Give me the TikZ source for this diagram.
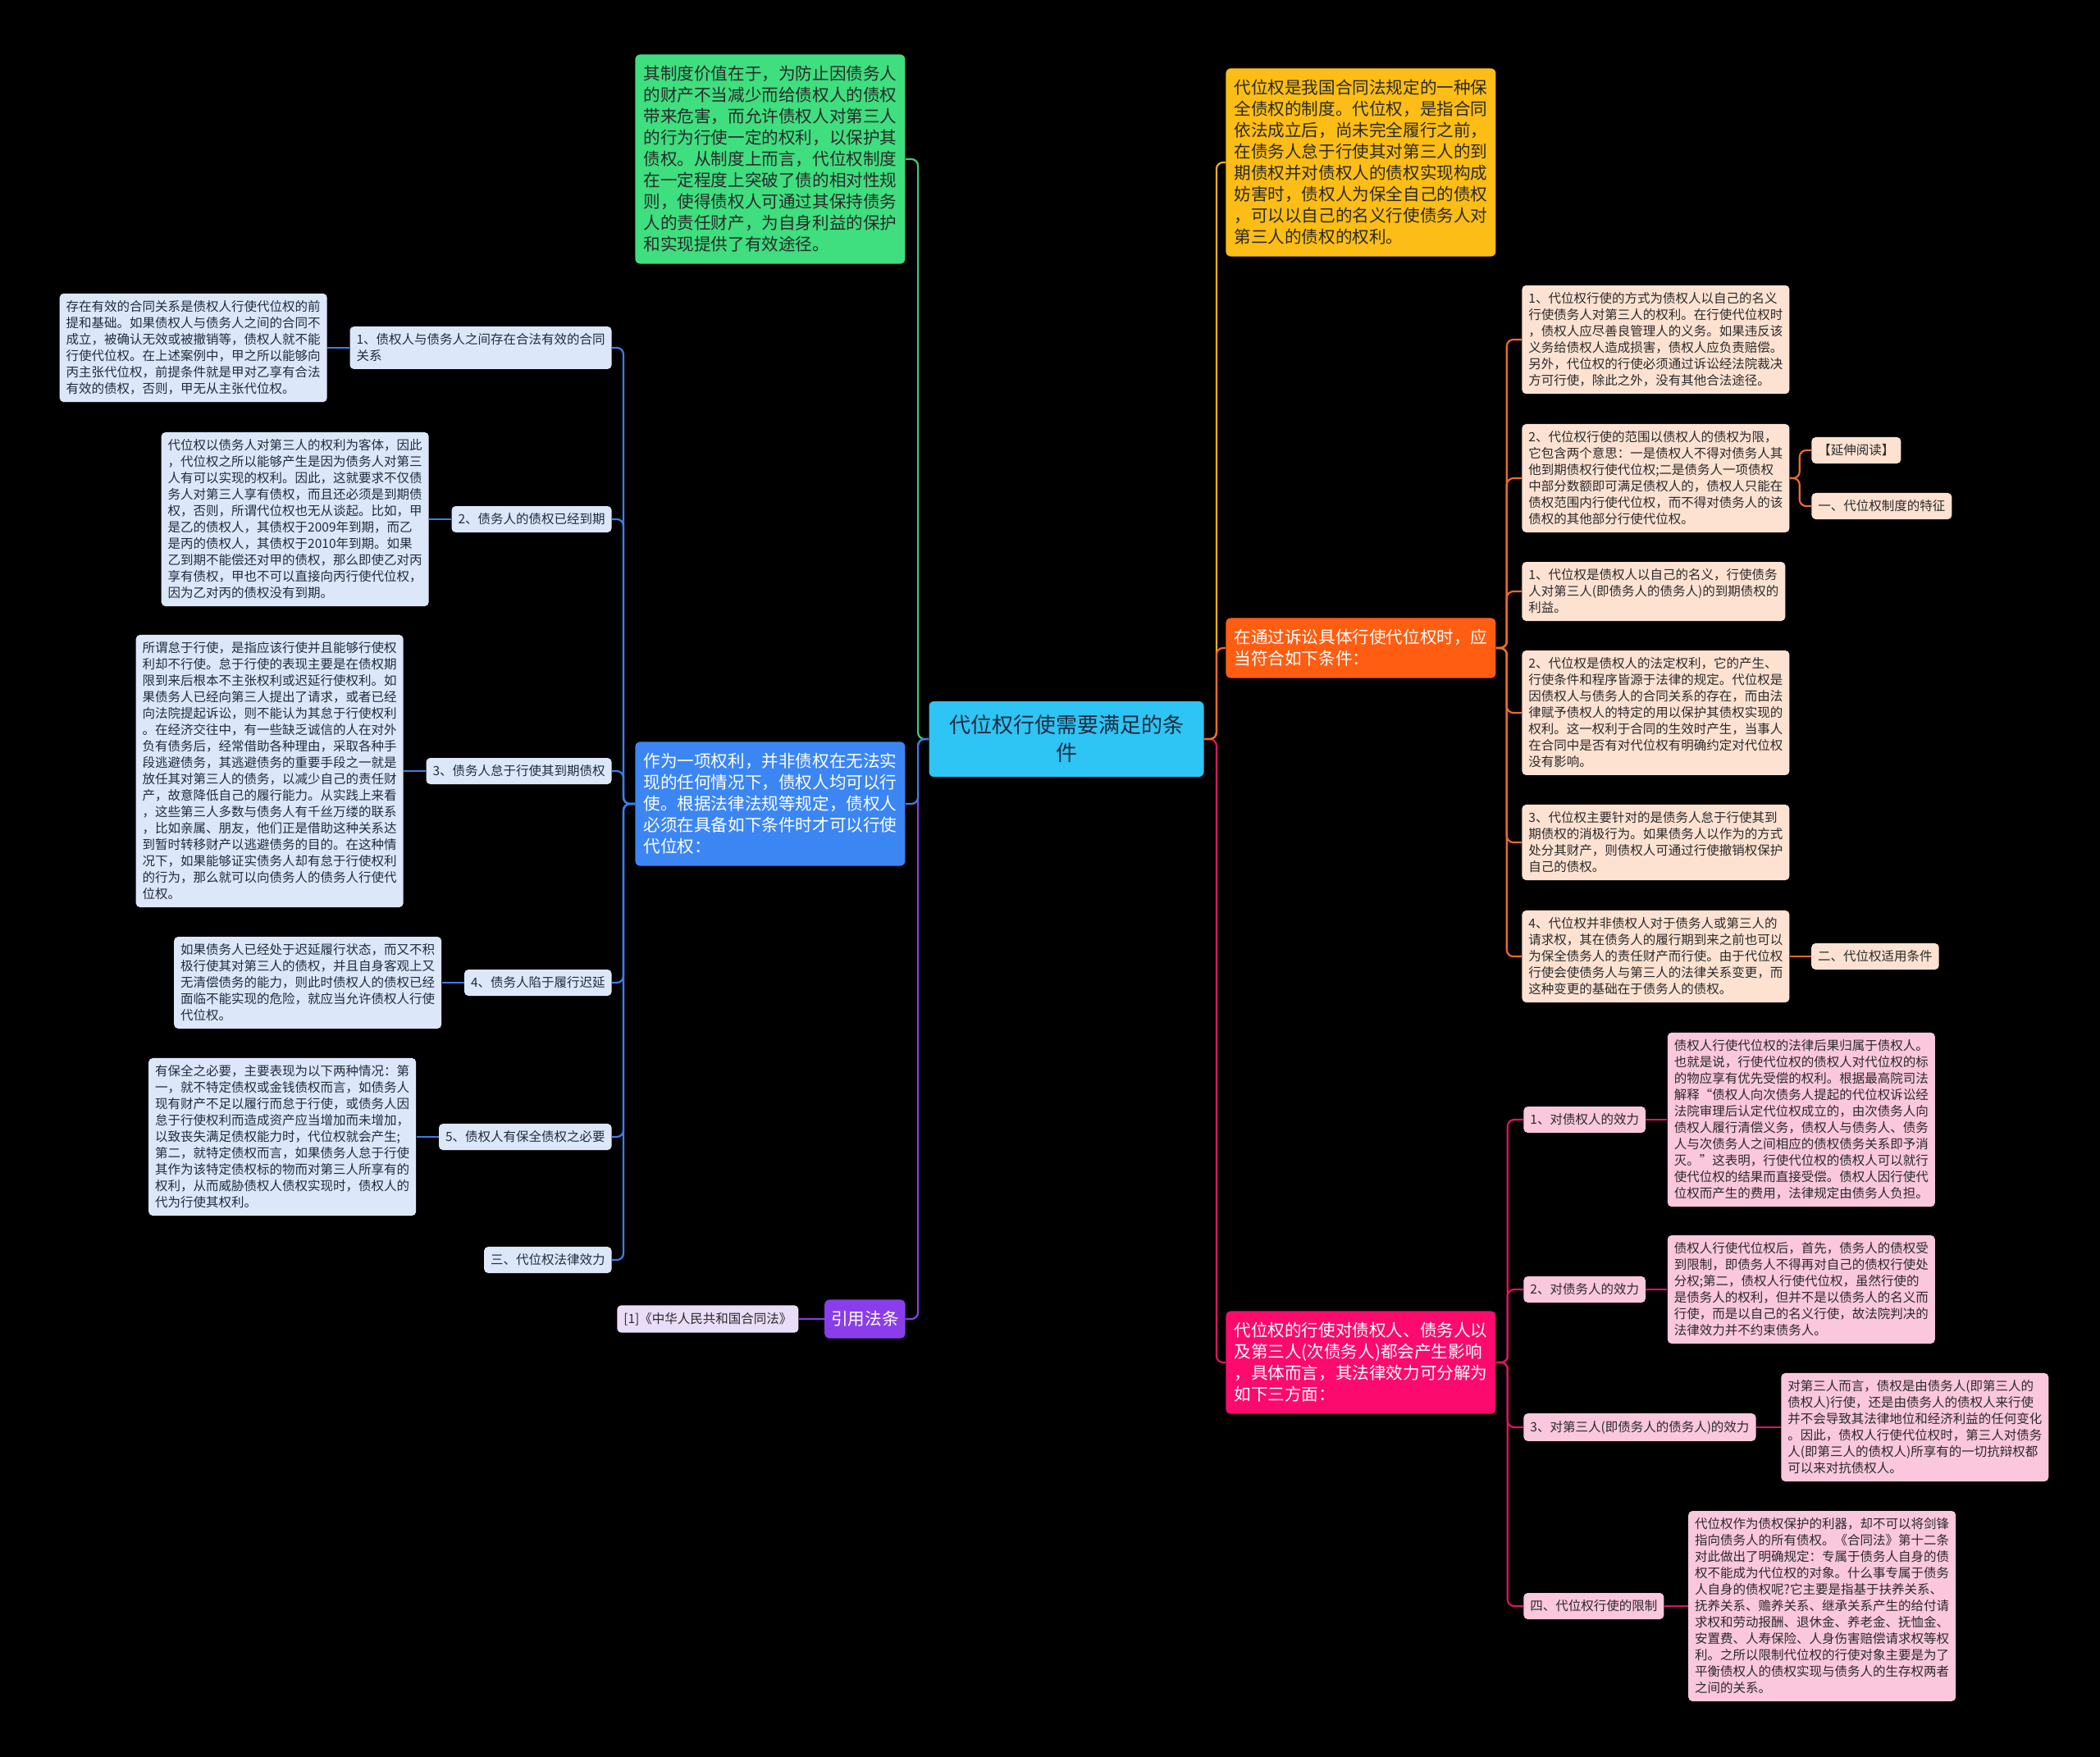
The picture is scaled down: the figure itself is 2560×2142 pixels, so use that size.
\documentclass[tikz,border=0pt]{standalone}
\usepackage{fontspec}
\setmainfont{Noto Sans CJK SC}
\usetikzlibrary{positioning}

\definecolor{ctrfill}{HTML}{2EC4F4}
\definecolor{grnfill}{HTML}{3FDE7E}
\definecolor{blufill}{HTML}{3C86F4}
\definecolor{purfill}{HTML}{8A3DEA}
\definecolor{reffill}{HTML}{EADDF8}
\definecolor{yelfill}{HTML}{FBBD16}
\definecolor{orgfill}{HTML}{FF5D12}
\definecolor{pnkfill}{HTML}{FC0A6D}
\definecolor{peach}{HTML}{FDE2D2}
\definecolor{rose}{HTML}{FAC7DC}
\definecolor{ice}{HTML}{DCE8FA}
\definecolor{darkink}{HTML}{2A2A2A}
\definecolor{navyink}{HTML}{1F2C40}
\definecolor{grnline}{HTML}{3ACF76}
\definecolor{bluline}{HTML}{3C7EE6}
\definecolor{purline}{HTML}{8A3DEA}
\definecolor{yelline}{HTML}{EFAE16}
\definecolor{orgline}{HTML}{EE6A2C}
\definecolor{pnkline}{HTML}{DD1465}

\begin{document}
\begin{tikzpicture}[x=0.5pt, y=-0.5pt,
  box/.style={rounded corners=2.5pt, align=left, inner xsep=4pt, inner ysep=4.4pt,
    font=\fontsize{7.75}{10}\selectfont},
  topic/.style={rounded corners=3pt, align=left, inner xsep=5pt, inner ysep=7pt,
    font=\fontsize{10.3}{13}\selectfont},
  leafb/.style={box, fill=ice, text=navyink},
  leafo/.style={box, fill=peach, text=darkink},
  leafp/.style={box, fill=rose, text=darkink},
  conn/.style={line width=1.1pt, rounded corners=4pt},
  node distance=13.5pt]
\fill[black] (0,0) rectangle (2560,2142);

% root and main topics
\node[topic, fill=ctrfill, text=navyink, align=center, minimum width=167.5pt,
  inner ysep=8.5pt, font=\fontsize{13}{17}\selectfont] (ctr) at (1300,901)
  {代位权行使需要满足的条\\件};
\node[topic, fill=grnfill, text=darkink, anchor=west] (grn) at (774,194)
  {其制度价值在于，为防止因债务人\\的财产不当减少而给债权人的债权\\带来危害，而允许债权人对第三人\\的行为行使一定的权利，以保护其\\债权。从制度上而言，代位权制度\\在一定程度上突破了债的相对性规\\则，使得债权人可通过其保持债务\\人的责任财产，为自身利益的保护\\和实现提供了有效途径。};
\node[topic, fill=blufill, text=white, anchor=west] (blu) at (774,980)
  {作为一项权利，并非债权在无法实\\现的任何情况下，债权人均可以行\\使。根据法律法规等规定，债权人\\必须在具备如下条件时才可以行使\\代位权：};
\node[topic, fill=purfill, text=white, anchor=east, inner xsep=4pt] (cit) at (1104,1608) {引用法条};
\node[box, fill=reffill, text=darkink, left=15.5pt of cit] (ref) {[1]《中华人民共和国合同法》};
\node[topic, fill=yelfill, text=darkink, anchor=west] (yel) at (1494,198)
  {代位权是我国合同法规定的一种保\\全债权的制度。代位权，是指合同\\依法成立后，尚未完全履行之前，\\在债务人怠于行使其对第三人的到\\期债权并对债权人的债权实现构成\\妨害时，债权人为保全自己的债权\\，可以以自己的名义行使债务人对\\第三人的债权的权利。};
\node[topic, fill=orgfill, text=white, anchor=west] (org) at (1494,790)
  {在通过诉讼具体行使代位权时，应\\当符合如下条件：};
\node[topic, fill=pnkfill, text=white, anchor=west] (pnk) at (1494,1661)
  {代位权的行使对债权人、债务人以\\及第三人(次债务人)都会产生影响\\，具体而言，其法律效力可分解为\\如下三方面：};

% left branch
\node[leafb, anchor=east] (b1) at (746,424) {1、债权人与债务人之间存在合法有效的合同\\关系};
\node[leafb, anchor=east] (b2) at (746,633) {2、债务人的债权已经到期};
\node[leafb, anchor=east] (b3) at (746,940) {3、债务人怠于行使其到期债权};
\node[leafb, anchor=east] (b4) at (746,1198) {4、债务人陷于履行迟延};
\node[leafb, anchor=east] (b5) at (746,1386) {5、债权人有保全债权之必要};
\node[leafb, anchor=east] (b6) at (746,1536) {三、代位权法律效力};
\node[leafb, left=of b1] (l1)
  {存在有效的合同关系是债权人行使代位权的前\\提和基础。如果债权人与债务人之间的合同不\\成立，被确认无效或被撤销等，债权人就不能\\行使代位权。在上述案例中，甲之所以能够向\\丙主张代位权，前提条件就是甲对乙享有合法\\有效的债权，否则，甲无从主张代位权。};
\node[leafb, left=of b2] (l2)
  {代位权以债务人对第三人的权利为客体，因此\\，代位权之所以能够产生是因为债务人对第三\\人有可以实现的权利。因此，这就要求不仅债\\务人对第三人享有债权，而且还必须是到期债\\权，否则，所谓代位权也无从谈起。比如，甲\\是乙的债权人，其债权于2009年到期，而乙\\是丙的债权人，其债权于2010年到期。如果\\乙到期不能偿还对甲的债权，那么即使乙对丙\\享有债权，甲也不可以直接向丙行使代位权，\\因为乙对丙的债权没有到期。};
\node[leafb, left=of b3] (l3)
  {所谓怠于行使，是指应该行使并且能够行使权\\利却不行使。怠于行使的表现主要是在债权期\\限到来后根本不主张权利或迟延行使权利。如\\果债务人已经向第三人提出了请求，或者已经\\向法院提起诉讼，则不能认为其怠于行使权利\\。在经济交往中，有一些缺乏诚信的人在对外\\负有债务后，经常借助各种理由，采取各种手\\段逃避债务，其逃避债务的重要手段之一就是\\放任其对第三人的债务，以减少自己的责任财\\产，故意降低自己的履行能力。从实践上来看\\，这些第三人多数与债务人有千丝万缕的联系\\，比如亲属、朋友，他们正是借助这种关系达\\到暂时转移财产以逃避债务的目的。在这种情\\况下，如果能够证实债务人却有怠于行使权利\\的行为，那么就可以向债务人的债务人行使代\\位权。};
\node[leafb, left=of b4] (l4)
  {如果债务人已经处于迟延履行状态，而又不积\\极行使其对第三人的债权，并且自身客观上又\\无清偿债务的能力，则此时债权人的债权已经\\面临不能实现的危险，就应当允许债权人行使\\代位权。};
\node[leafb, left=of b5] (l5)
  {有保全之必要，主要表现为以下两种情况：第\\一，就不特定债权或金钱债权而言，如债务人\\现有财产不足以履行而怠于行使，或债务人因\\怠于行使权利而造成资产应当增加而未增加，\\以致丧失满足债权能力时，代位权就会产生;\\第二，就特定债权而言，如果债务人怠于行使\\其作为该特定债权标的物而对第三人所享有的\\权利，从而威胁债权人债权实现时，债权人的\\代为行使其权利。};

% orange branch
\node[leafo, anchor=west] (o1) at (1855,414)
  {1、代位权行使的方式为债权人以自己的名义\\行使债务人对第三人的权利。在行使代位权时\\，债权人应尽善良管理人的义务。如果违反该\\义务给债权人造成损害，债权人应负责赔偿。\\另外，代位权的行使必须通过诉讼经法院裁决\\方可行使，除此之外，没有其他合法途径。};
\node[leafo, anchor=west] (o2) at (1855,583)
  {2、代位权行使的范围以债权人的债权为限，\\它包含两个意思：一是债权人不得对债务人其\\他到期债权行使代位权;二是债务人一项债权\\中部分数额即可满足债权人的，债权人只能在\\债权范围内行使代位权，而不得对债务人的该\\债权的其他部分行使代位权。};
\node[leafo, anchor=west] (o3) at (1855,721)
  {1、代位权是债权人以自己的名义，行使债务\\人对第三人(即债务人的债务人)的到期债权的\\利益。};
\node[leafo, anchor=west] (o4) at (1855,869)
  {2、代位权是债权人的法定权利，它的产生、\\行使条件和程序皆源于法律的规定。代位权是\\因债权人与债务人的合同关系的存在，而由法\\律赋予债权人的特定的用以保护其债权实现的\\权利。这一权利于合同的生效时产生，当事人\\在合同中是否有对代位权有明确约定对代位权\\没有影响。};
\node[leafo, anchor=west] (o5) at (1855,1027)
  {3、代位权主要针对的是债务人怠于行使其到\\期债权的消极行为。如果债务人以作为的方式\\处分其财产，则债权人可通过行使撤销权保护\\自己的债权。};
\node[leafo, anchor=west] (o6) at (1855,1166)
  {4、代位权并非债权人对于债务人或第三人的\\请求权，其在债务人的履行期到来之前也可以\\为保全债务人的责任财产而行使。由于代位权\\行使会使债务人与第三人的法律关系变更，而\\这种变更的基础在于债务人的债权。};
\node[leafo, anchor=west] (r1) at (2208,549) {【延伸阅读】};
\node[leafo, anchor=west] (r2) at (2208,617) {一、代位权制度的特征};
\node[leafo, right=13pt of o6] (r3) {二、代位权适用条件};

% pink branch
\node[leafp, anchor=west] (p1) at (1857,1365) {1、对债权人的效力};
\node[leafp, anchor=west] (p2) at (1857,1572) {2、对债务人的效力};
\node[leafp, anchor=west] (p3) at (1857,1740) {3、对第三人(即债务人的债务人)的效力};
\node[leafp, anchor=west] (p4) at (1857,1958) {四、代位权行使的限制};
\node[leafp, right=13pt of p1] (q1)
  {债权人行使代位权的法律后果归属于债权人。\\也就是说，行使代位权的债权人对代位权的标\\的物应享有优先受偿的权利。根据最高院司法\\解释“债权人向次债务人提起的代位权诉讼经\\法院审理后认定代位权成立的，由次债务人向\\债权人履行清偿义务，债权人与债务人、债务\\人与次债务人之间相应的债权债务关系即予消\\灭。”这表明，行使代位权的债权人可以就行\\使代位权的结果而直接受偿。债权人因行使代\\位权而产生的费用，法律规定由债务人负担。};
\node[leafp, right=13pt of p2] (q2)
  {债权人行使代位权后，首先，债务人的债权受\\到限制，即债务人不得再对自己的债权行使处\\分权;第二，债权人行使代位权，虽然行使的\\是债务人的权利，但并不是以债务人的名义而\\行使，而是以自己的名义行使，故法院判决的\\法律效力并不约束债务人。};
\node[leafp, right=15pt of p3] (q3)
  {对第三人而言，债权是由债务人(即第三人的\\债权人)行使，还是由债务人的债权人来行使\\并不会导致其法律地位和经济利益的任何变化\\。因此，债权人行使代位权时，第三人对债务\\人(即第三人的债权人)所享有的一切抗辩权都\\可以来对抗债权人。};
\node[leafp, right=14.5pt of p4] (q4)
  {代位权作为债权保护的利器，却不可以将剑锋\\指向债务人的所有债权。《合同法》第十二条\\对此做出了明确规定：专属于债务人自身的债\\权不能成为代位权的对象。什么事专属于债务\\人自身的债权呢?它主要是指基于扶养关系、\\抚养关系、赡养关系、继承关系产生的给付请\\求权和劳动报酬、退休金、养老金、抚恤金、\\安置费、人寿保险、人身伤害赔偿请求权等权\\利。之所以限制代位权的行使对象主要是为了\\平衡债权人的债权实现与债务人的生存权两者\\之间的关系。};

% connectors
\draw[conn, grnline] (ctr.west) -- ++(-13,0) |- (grn.east);
\draw[conn, purline] (ctr.west) -- ++(-13,0) |- (cit.east);
\draw[conn, bluline] (ctr.west) -- ++(-13,0) |- (blu.east);
\draw[conn, yelline] (ctr.east) -- ++(15,0) |- (yel.west);
\draw[conn, pnkline] (ctr.east) -- ++(15,0) |- (pnk.west);
\draw[conn, orgline] (ctr.east) -- ++(15,0) |- (org.west);
\foreach \c in {b1,b2,b3,b4,b5,b6}
  \draw[conn, bluline] (blu.west) -- ++(-14,0) |- (\c.east);
\foreach \a/\b in {b1/l1, b2/l2, b3/l3, b4/l4, b5/l5}
  \draw[conn, bluline] (\a.west) -- (\b.east);
\draw[conn, purline] (cit.west) -- (ref.east);
\foreach \c in {o1,o2,o3,o4,o5,o6}
  \draw[conn, orgline] (org.east) -- ++(13,0) |- (\c.west);
\foreach \c in {r1,r2}
  \draw[conn, orgline] (o2.east) -- ++(12,0) |- (\c.west);
\draw[conn, orgline] (o6.east) -- (r3.west);
\foreach \c in {p1,p2,p3,p4}
  \draw[conn, pnkline] (pnk.east) -- ++(14,0) |- (\c.west);
\foreach \a/\b in {p1/q1, p2/q2, p3/q3, p4/q4}
  \draw[conn, pnkline] (\a.east) -- (\b.west);
\end{tikzpicture}
\end{document}
